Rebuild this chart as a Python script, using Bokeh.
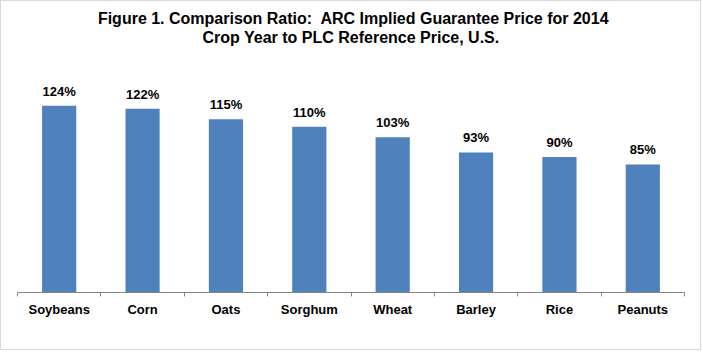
from bokeh.plotting import figure
from bokeh.models import ColumnDataSource, FixedTicker, Range1d, Title
from bokeh.core.properties import value
from bokeh.embed import file_html
from bokeh.resources import INLINE

categories = ["Soybeans", "Corn", "Oats", "Sorghum", "Wheat", "Barley", "Rice", "Peanuts"]
ratios = [124, 122, 115, 110, 103, 93, 90, 85]
labels = [f"{v}%" for v in ratios]
title_lines = ["Figure 1. Comparison Ratio:\u00a0 ARC Implied Guarantee Price for 2014",
               "Crop Year to PLC Reference Price, U.S."]

xpos = [i + 0.5 for i in range(len(categories))]
src = ColumnDataSource(dict(x=xpos, top=ratios, lab=labels))

p = figure(width=701, height=350, output_backend="svg", toolbar_location=None,
           x_range=Range1d(0, len(categories)), y_range=Range1d(0, 164),
           min_border_left=16, min_border_right=18, min_border_bottom=59, min_border_top=44)
p.styles = {"border": "1px solid #d9d9d9"}

def style_title(t):
    t.align = "center"
    t.text_font = "Liberation Sans"
    t.text_font_style = "bold"
    t.text_font_size = "16px"
    t.text_color = "#000000"
    t.standoff = 0

p.title.text = title_lines[0]
style_title(p.title)
p.title.padding = (5, 0, 0, 0)
t2 = Title(text=title_lines[1])
style_title(t2)
p.add_layout(t2, "above")

p.vbar(x="x", top="top", width=0.41, bottom=0, source=src, color="#4F81BD", line_color=None)
p.text(x="x", y="top", text="lab", source=src, text_align="center", text_baseline="bottom",
       y_offset=-7, text_font=value("Liberation Sans"), text_font_style="bold",
       text_font_size="13px", text_color="#000000")

p.xaxis.ticker = FixedTicker(ticks=xpos, minor_ticks=list(range(len(categories) + 1)))
p.xaxis.major_label_overrides = {x: c for x, c in zip(xpos, categories)}
p.xaxis.major_tick_line_color = None
p.xaxis.minor_tick_in = 0
p.xaxis.minor_tick_out = 4
p.xaxis.minor_tick_line_color = "#868686"
p.xaxis.axis_line_color = "#868686"
p.xaxis.major_label_text_font = "Liberation Sans"
p.xaxis.major_label_text_font_style = "bold"
p.xaxis.major_label_text_font_size = "13px"
p.xaxis.major_label_text_color = "#000000"
p.xaxis.major_label_standoff = 3

p.yaxis.visible = False
p.xgrid.visible = False
p.ygrid.visible = False
p.outline_line_color = None

open("out.html", "w").write(file_html(p, INLINE))
